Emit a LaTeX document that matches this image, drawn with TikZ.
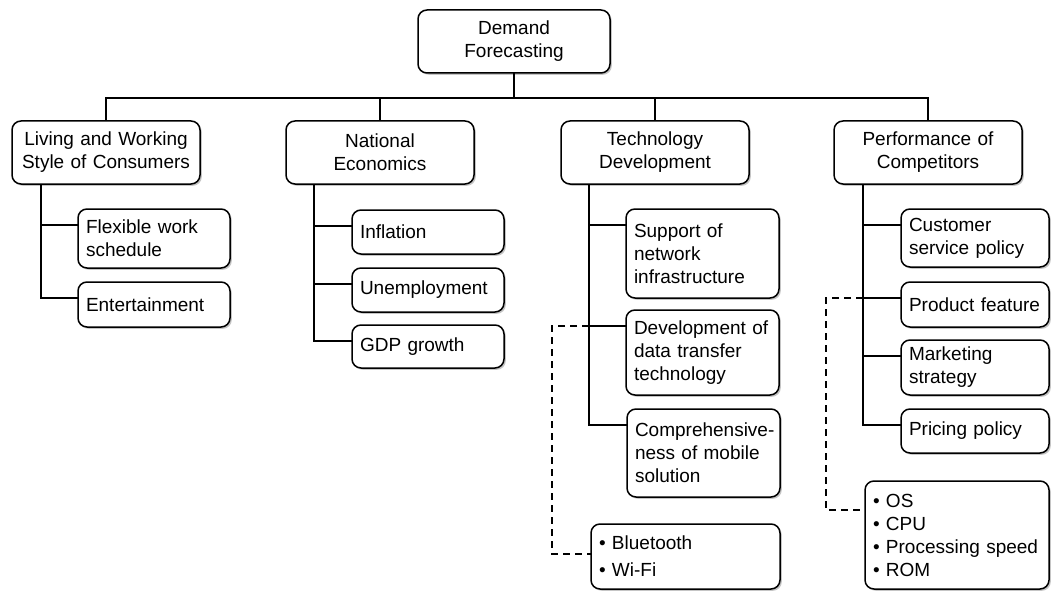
\documentclass[tikz,border=0pt]{standalone}
\usepackage{fontspec}
\setmainfont{Liberation Sans}
\usetikzlibrary{shadows,calc}
\hyphenpenalty=10000
\exhyphenpenalty=10000
\begin{document}
\begin{tikzpicture}[x=1pt,y=-1pt,
  every node/.style={font=\fontsize{19}{23}\selectfont},
  box/.style={draw=black, line width=1.5pt, rounded corners=9pt, fill=white,
    drop shadow={shadow xshift=1.8pt, shadow yshift=-1.8pt, fill=black!45},
    anchor=north west, inner xsep=8pt, inner ysep=0pt, outer sep=0pt},
  topbox/.style={box, align=center, minimum width=188pt, text width=172pt, minimum height=63pt},
  leaf/.style={box, align=left},
  conn/.style={draw=black, line width=1.5pt},
  dashline/.style={draw=black, line width=1.5pt, dash pattern=on 7pt off 5pt}]
\useasboundingbox[fill=white] (0,0) rectangle (1051,591);

% root
\node[box, align=center, minimum width=192pt, text width=176pt, minimum height=63pt] (root) at (418,10) {Demand\\Forecasting};

% level 1
\node[topbox] (l1a) at (12,121) {Living and Working\\Style of Consumers};
\node[topbox] (l1b) at (286,121) {National\\Economics};
\node[topbox] (l1c) at (561,121) {Technology\\Development};
\node[topbox] (l1d) at (834,121) {Performance of\\Competitors};

% Living children
\node[leaf, minimum width=152pt, text width=136pt, minimum height=59pt] (c11) at (78,209) {Flexible work\\schedule};
\node[leaf, minimum width=152pt, text width=136pt, minimum height=45pt] (c12) at (78,282) {Entertainment};

% National children
\node[leaf, minimum width=152pt, text width=136pt, minimum height=44pt] (c21) at (352,210) {Inflation};
\node[leaf, minimum width=152pt, text width=136pt, minimum height=44pt] (c22) at (352,268) {Unemployment};
\node[leaf, minimum width=152pt, text width=136pt, minimum height=43pt] (c23) at (352,325) {GDP growth};

% Technology children
\node[leaf, minimum width=153pt, text width=137pt, minimum height=89pt] (c31) at (626,209) {Support of\\network\\infrastructure};
\node[leaf, minimum width=153pt, text width=137pt, minimum height=85pt] (c32) at (626,310) {\mbox{Development of}\\data transfer\\technology};
\node[leaf, minimum width=153pt, text width=137pt, minimum height=88pt] (c33) at (627,409) {\mbox{Comprehensive-}\\ness of mobile\\solution};
\node[leaf, minimum width=189pt, text width=173pt, minimum height=65pt] (c34) at (591,524) {\textbullet\ Bluetooth\\[4pt]\textbullet\ Wi-Fi};

% Performance children
\node[leaf, minimum width=148pt, text width=132pt, minimum height=58pt] (c41) at (901,209) {Customer\\service policy};
\node[leaf, minimum width=148pt, text width=132pt, minimum height=45pt] (c42) at (901,282) {\mbox{Product feature}};
\node[leaf, minimum width=148pt, text width=132pt, minimum height=55pt] (c43) at (901,340) {Marketing\\strategy};
\node[leaf, minimum width=148pt, text width=132pt, minimum height=44pt] (c44) at (901,409) {Pricing policy};
\node[leaf, minimum width=184pt, text width=168pt, minimum height=108pt] (c45) at (865,481) {\textbullet\ OS\\\textbullet\ CPU\\\mbox{\textbullet\ Processing speed}\\\textbullet\ ROM};

% connection points
\coordinate (bus) at ($(root.south)+(0,25)$);
\coordinate (t1) at ($(l1a.south west)+(29,0)$);
\coordinate (t2) at ($(l1b.south west)+(28,0)$);
\coordinate (t3) at ($(l1c.south west)+(28,0)$);
\coordinate (t4) at ($(l1d.south west)+(29,0)$);
\foreach \n in {c11,c12,c21,c22,c23,c31,c32,c33,c41,c42,c43,c44}
  \coordinate (\n p) at ($(\n.north west)+(0,16)$);
\coordinate (c34p) at ($(c34.north west)+(0,30)$);
\coordinate (c45p) at ($(c45.north west)+(0,29)$);

% tree connectors
\draw[conn] (root.south) -- (bus);
\draw[conn] (l1a.north) |- (bus);
\draw[conn] (l1b.north) |- (bus);
\draw[conn] (l1c.north) |- (bus);
\draw[conn] (l1d.north) |- (bus);

\draw[conn] (t1) |- (c11p);
\draw[conn] (t1) |- (c12p);
\draw[conn] (t2) |- (c21p);
\draw[conn] (t2) |- (c22p);
\draw[conn] (t2) |- (c23p);
\draw[conn] (t3) |- (c31p);
\draw[conn] (t3) |- (c32p);
\draw[conn] (t3) |- (c33p);
\draw[conn] (t4) |- (c41p);
\draw[conn] (t4) |- (c42p);
\draw[conn] (t4) |- (c43p);
\draw[conn] (t4) |- (c44p);

% dashed links
\draw[dashline] (t3 |- c32p) -- ++(-37,0) |- (c34p);
\draw[dashline] (t4 |- c42p) -- ++(-37,0) |- (c45p);
\end{tikzpicture}
\end{document}
